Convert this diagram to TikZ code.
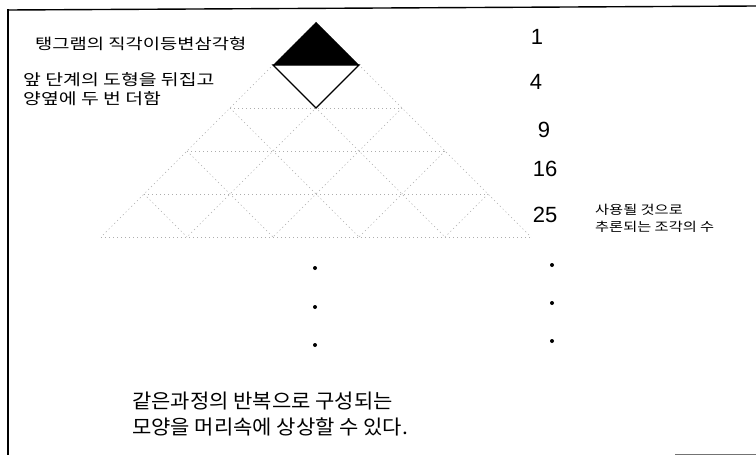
\documentclass[tikz,border=0pt]{standalone}
\usepackage{fontspec}
\setmainfont{Liberation Sans}
\newfontfamily\krwide[FakeStretch=1.25]{Noto Sans CJK KR}
\newfontfamily\krsmall[FakeStretch=1.22]{Noto Sans CJK KR}
\newfontfamily\kr[FakeStretch=1.05]{Noto Sans CJK KR}
\begin{document}
\begin{tikzpicture}[x=1pt,y=-1pt,
  faint/.style={draw=black!32,line width=0.5pt,dash pattern=on 1.2pt off 2.8pt},
  num/.style={inner sep=0pt,font=\fontsize{22}{24}\selectfont},
  note/.style={inner sep=0pt,anchor=west,align=left},
  dotmark/.style={circle,fill=black,inner sep=0pt,minimum size=4pt}]
\useasboundingbox (0,0) rectangle (756,455);
% frame
\draw[line width=1.4pt] (8,10) -- (756,6);
\draw[line width=1.4pt] (8,9) -- (8,455);
\draw[black!55,line width=1pt] (675,454) -- (756,454);
% pyramid grid (faint)
\coordinate (A) at (316,22);
\foreach \k in {2,...,5}{
  \draw[faint] ({316-43*\k},{22+43*\k}) -- ({316+43*\k},{22+43*\k});
}
\foreach \j in {0,...,4}{
  \draw[faint] ({316+43*\j},{22+43*\j}) -- ({316+43*(2*\j-5)},237);
  \draw[faint] ({316-43*\j},{22+43*\j}) -- ({316-43*(2*\j-5)},237);
}
% tangram diamond
\coordinate (L) at (273,65);
\coordinate (R) at (359,65);
\coordinate (B) at (316,108);
\fill[black] (A) -- (L) -- (R) -- cycle;
\draw[line width=1.1pt,line join=miter] (L) -- (B) -- (R) -- cycle;
% left texts
\node[note,font=\krwide\fontsize{15}{19}\selectfont] (t1) at (35,43.5) {탱그램의 직각이등변삼각형};
\node[note,font=\krwide\fontsize{15.5}{19}\selectfont] (t2) at (23,89) {앞 단계의 도형을 뒤집고\\양옆에 두 번 더함};
% numbers
\node[num] (n1) at (537,37) {1};
\node[num] (n4) at (536,82) {4};
\node[num] (n9) at (544,130) {9};
\node[num] (n16) at (545,169) {16};
\node[num] (n25) at (545,215) {25};
\node[note,font=\krsmall\fontsize{12.5}{17}\selectfont] (t3) at (595,218.5) {사용될 것으로\\추론되는 조각의 수};
% dots
\node[dotmark] (d1) at (315,268) {};
\node[dotmark] (d2) at (315,307) {};
\node[dotmark] (d3) at (315,345) {};
\node[dotmark] (e1) at (552,265) {};
\node[dotmark] (e2) at (552,303) {};
\node[dotmark] (e3) at (552,341) {};
% bottom text
\node[note,font=\kr\fontsize{20}{26.5}\selectfont] (t4) at (132,414) {같은과정의 반복으로 구성되는\\모양을 머리속에 상상할 수 있다.};
\end{tikzpicture}
\end{document}
